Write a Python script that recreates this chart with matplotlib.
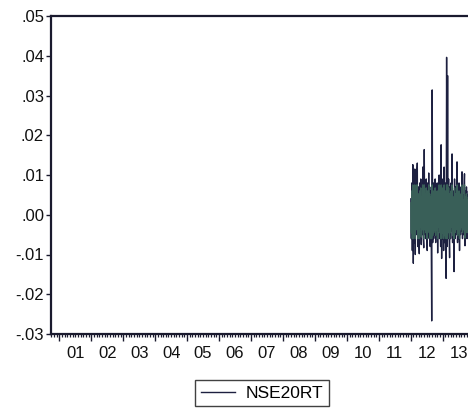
import numpy as np
import matplotlib
matplotlib.use("Agg")
import matplotlib.pyplot as plt
from matplotlib.ticker import FixedLocator, MultipleLocator
from matplotlib.transforms import blended_transform_factory

plt.rcParams['font.family'] = ['Liberation Sans', 'DejaVu Sans']

# ---- data ----
series_name = "NSE20RT"
start_year = 2012.0
end_year = 2013.85
nse20rt = [
    0.004, -0.006, 0.008, -0.009, 0.0126, -0.0122, 0.009, -0.007, 0.0115, -0.010,
    0.006, -0.005, 0.010, 0.0130, -0.008, 0.007, -0.006, -0.0098, 0.008, -0.004,
    0.009, -0.0075, 0.006, -0.005, 0.012, -0.006, -0.0083, 0.0164, -0.005, 0.007,
    -0.006, 0.009, -0.004, -0.0090, 0.008, -0.005, 0.0105, -0.006, 0.007, -0.008,
    0.006, -0.004, -0.0267, 0.0314, -0.007, 0.008, -0.006, 0.005, -0.005, 0.009,
    -0.007, 0.006, -0.005, 0.008, -0.0096, 0.007, -0.004, 0.010, -0.006, 0.005,
    -0.008, 0.0176, -0.0110, 0.009, -0.006, 0.007, -0.009, 0.012, -0.007, 0.008,
    -0.006, -0.0160, 0.0396, -0.008, 0.0350, -0.006, 0.009, -0.005, -0.0108, 0.007,
    -0.006, 0.008, -0.004, 0.0153, -0.007, 0.006, -0.005, -0.0143, 0.009, -0.006,
    0.007, -0.005, 0.006, 0.0133, -0.007, 0.005, -0.006, 0.008, -0.0090, 0.006,
    -0.005, 0.007, -0.004, 0.0108, -0.006, 0.005, -0.005, 0.006, 0.0103, -0.0078,
    0.006, -0.005, 0.007, -0.006, 0.005, -0.004, 0.006, -0.005, 0.007, -0.006,
]
year_labels = ["01", "02", "03", "04", "05", "06", "07", "08", "09", "10", "11", "12", "13"]
year_starts = list(range(2001, 2014))
y_ticks = [0.05, 0.04, 0.03, 0.02, 0.01, 0.00, -0.01, -0.02, -0.03]
y_tick_labels = [".05", ".04", ".03", ".02", ".01", ".00", "-.01", "-.02", "-.03"]

# ---- figure ----
W, H = 468, 409
fig = plt.figure(figsize=(W / 100, H / 100), dpi=100)
left_px, right_px, top_px, bot_px = 51, 474.75, 16, 334
ax = fig.add_axes([left_px / W, 1 - bot_px / H, (right_px - left_px) / W, (bot_px - top_px) / H])

vals = np.array(nse20rt)
x = np.linspace(start_year, end_year, len(vals))
dark = "#1d2040"
green = "#3f6b5d"
ax.plot(x, vals, color=dark, lw=1.0, label=series_name)
ax.plot(x, np.clip(vals * 0.75, -0.006, 0.0075), color=green, lw=1.0, alpha=0.85)

ax.set_xlim(2000.74, 2014.0)
ax.set_ylim(-0.03, 0.05)

spine_col = "#1a1a2e"
for s in ['left', 'top', 'bottom', 'right']:
    ax.spines[s].set_color(spine_col)
    ax.spines[s].set_linewidth(1.6)

ax.set_yticks(y_ticks)
ax.set_yticklabels(y_tick_labels, fontsize=12, color="#111111")
ax.tick_params(axis='y', direction='out', length=3.5, width=1.0, color=spine_col, pad=1.5)

ax.xaxis.set_major_locator(FixedLocator(year_starts))
ax.xaxis.set_minor_locator(MultipleLocator(1 / 12))
ax.tick_params(axis='x', which='major', direction='out', length=5, width=1.0, color=spine_col, labelbottom=False)
ax.tick_params(axis='x', which='minor', direction='out', length=2.5, width=0.9, color=spine_col)

trans = blended_transform_factory(ax.transData, ax.transAxes)
for yr, lab in zip(year_starts, year_labels):
    ax.text(yr + 0.5, -0.038, lab, transform=trans, ha='center', va='top',
            fontsize=12, color="#111111")

leg = fig.legend(loc='center', bbox_to_anchor=(262 / W, 1 - 393 / H), fontsize=12.5,
                 frameon=True, fancybox=False, edgecolor="#111111", handlelength=2.0,
                 borderpad=0.3, handletextpad=0.6)
leg.get_frame().set_linewidth(1.0)

fig.savefig("out.png", dpi=100)
